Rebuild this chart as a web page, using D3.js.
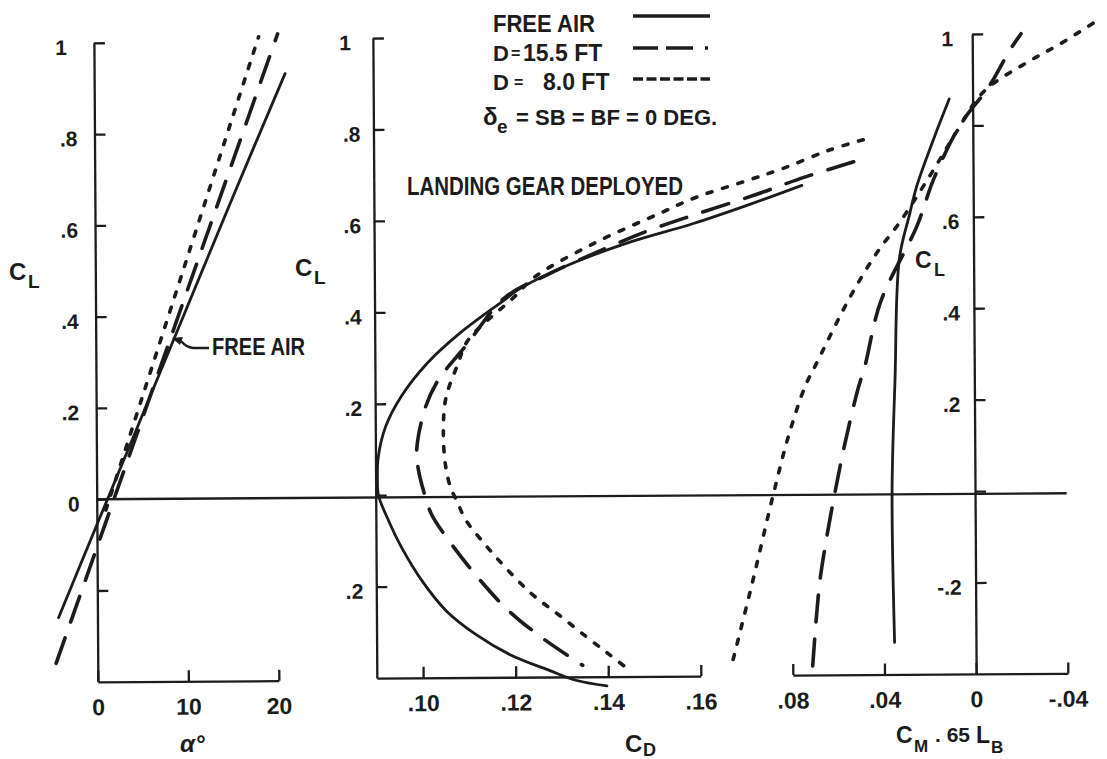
<!DOCTYPE html>
<html>
<head>
<meta charset="utf-8">
<script src="https://cdn.jsdelivr.net/npm/d3@7"></script>
<style>
  body { margin: 0; background: #fff; }
  svg { display: block; }
  text { font-family: 'Liberation Sans', Arial, 'DejaVu Sans', sans-serif; font-weight: bold; fill: #1c1c1c; }
</style>
</head>
<body>
<svg id="chart" width="1107" height="759"></svg>
<script>
// ---------------- DATA ----------------
// Left panel: CL vs angle of attack (deg)
const alphaFree = [-4.3, 0, 5, 10, 15, 21.1];
const clAlphaFree = [-0.259, -0.056, 0.179, 0.414, 0.649, 0.93];
const alpha155 = [-4.6, 0, 5, 10, 15, 20.3];
const clAlpha155 = [-0.359, -0.105, 0.171, 0.448, 0.724, 1.017];
const alpha80 = [1.0, 5, 10, 15, 18.2];
const clAlpha80 = [-0.024, 0.217, 0.518, 0.819, 1.011];

// Middle panel: drag polar CL vs CD
const cdFree = [0.1825, 0.1706, 0.159, 0.1446, 0.1317, 0.1209, 0.1187, 0.1086, 0.1014, 0.0956, 0.0922, 0.0906, 0.0904, 0.0906, 0.0928, 0.0956, 0.0999, 0.1051, 0.1116, 0.1187, 0.1274, 0.1332, 0.1397];
const clCdFree = [0.672, 0.629, 0.59, 0.548, 0.50, 0.447, 0.43, 0.355, 0.289, 0.215, 0.149, 0.083, 0.037, 0, -0.057, -0.116, -0.188, -0.254, -0.307, -0.35, -0.386, -0.408, -0.42];
const cd155 = [0.1937, 0.1831, 0.1721, 0.1598, 0.149, 0.1375, 0.127, 0.1181, 0.1097, 0.1036, 0.1008, 0.0989, 0.0993, 0.1008, 0.1021, 0.1053, 0.1116, 0.1183, 0.1256, 0.1345];
const clCd155 = [0.723, 0.69, 0.651, 0.611, 0.574, 0.526, 0.478, 0.43, 0.326, 0.25, 0.19, 0.096, 0.053, -0.007, -0.044, -0.094, -0.177, -0.252, -0.313, -0.375];
const cd80 = [0.1958, 0.1885, 0.1786, 0.1706, 0.1598, 0.1518, 0.1375, 0.1246, 0.1202, 0.1101, 0.1079, 0.1053, 0.1047, 0.1051, 0.1062, 0.1075, 0.1094, 0.1138, 0.1183, 0.1237, 0.1295, 0.1354, 0.1403, 0.1442];
const clCd80 = [0.771, 0.749, 0.71, 0.683, 0.648, 0.613, 0.548, 0.475, 0.432, 0.337, 0.285, 0.212, 0.14, 0.066, 0.015, -0.013, -0.055, -0.112, -0.164, -0.219, -0.265, -0.313, -0.352, -0.383];

// Right panel: CL vs pitching moment CM .65 LB
const cmFree = [0.0355, 0.0362, 0.0346, 0.0324, 0.028, 0.0246, 0.0171, 0.0102];
const clCmFree = [-0.33, 0, 0.247, 0.509, 0.603, 0.668, 0.771, 0.858];
const cm155 = [0.0713, 0.0682, 0.0652, 0.0608, 0.0565, 0.0508, 0.0477, 0.0407, 0.0246, 0.0172, 0.0058, -0.0073, -0.016, -0.0213];
const clCm155 = [-0.38, -0.205, -0.109, 0.007, 0.109, 0.225, 0.275, 0.415, 0.581, 0.683, 0.799, 0.886, 0.961, 1.0];
const cm80 = [0.106, 0.0974, 0.0878, 0.0813, 0.0739, 0.0695, 0.0538, 0.042, 0.032, 0.0189, 0.0071, -0.0047, -0.0249, -0.038, -0.0553];
const clCm80 = [-0.365, -0.197, 0, 0.122, 0.231, 0.275, 0.428, 0.524, 0.59, 0.69, 0.786, 0.873, 0.94, 0.976, 1.03];

// Ticks
const clTicks = [1, 0.8, 0.6, 0.4, 0.2, 0, -0.2];
const clLabelsLeft = ["1", ".8", ".6", ".4", ".2", "0", ""];
const clLabelsMid = ["1", ".8", ".6", ".4", ".2", "", ".2"];
const clLabelsRight = ["1", "", ".6", ".4", ".2", "", "-.2"];
const alphaTicks = [0, 10, 20];
const alphaLabels = ["0", "10", "20"];
const cdTicks = [0.10, 0.12, 0.14, 0.16];
const cdLabels = [".10", ".12", ".14", ".16"];
const cmTicks = [0.08, 0.04, 0, -0.04];
const cmLabels = [".08", ".04", "0", "-.04"];

// Legend
const seriesNames = ["FREE AIR", "D = 15.5 FT", "D =  8.0 FT"];

// ---------------- DRAWING ----------------
const ink = '#1c1c1c';
const svg = d3.select('#chart');
svg.append('rect').attr('width', 1107).attr('height', 759).attr('fill', '#fff');
// the scanned original is rotated very slightly
const g = svg.append('g').attr('transform', 'rotate(-0.355 550 380)');

const xAlpha = d3.scaleLinear().domain([0, 20]).range([96, 277]);
const yLeft = d3.scaleLinear().domain([-0.4, 1]).range([679, 40]);
const xCD = d3.scaleLinear().domain([0.09, 0.16]).range([375, 699]);
const yMid = d3.scaleLinear().domain([-0.4, 1]).range([677, 37]);
const xCM = d3.scaleLinear().domain([0.08, -0.04]).range([791, 1066]);
const yRight = d3.scaleLinear().domain([-0.4, 1]).range([676.6, 36.6]);

function styleAxis(sel) {
  sel.attr('font-family', null).attr('font-size', null);
  sel.selectAll('path.domain').attr('stroke', ink).attr('stroke-width', 2.3);
  sel.selectAll('.tick line').attr('stroke', ink).attr('stroke-width', 2.3);
  sel.selectAll('.tick text').attr('fill', ink);
}

function yAxis(scale, x, labels, pad, oneDx) {
  const ax = g.append('g').attr('transform', `translate(${x},0)`)
    .call(d3.axisLeft(scale).tickValues(clTicks).tickFormat((d, i) => labels[i])
      .tickSize(-11).tickSizeOuter(0).tickPadding(pad));
  styleAxis(ax);
  ax.selectAll('.tick text').attr('font-size', 21).attr('dy', '0.55em')
    .attr('dx', d => d === 1 ? oneDx : 0);
  return ax;
}
function xAxis(scale, y, ticks, labels) {
  const ax = g.append('g').attr('transform', `translate(0,${y})`)
    .call(d3.axisBottom(scale).tickValues(ticks).tickFormat((d, i) => labels[i])
      .tickSize(-11).tickSizeOuter(0).tickPadding(17));
  styleAxis(ax);
  ax.selectAll('.tick text').attr('font-size', 23);
  return ax;
}

// Left panel axes
yAxis(yLeft, xAlpha(0), clLabelsLeft, 17, -10);
xAxis(xAlpha, yLeft(-0.4), alphaTicks, alphaLabels);
// Middle panel axes
yAxis(yMid, xCD(0.09), clLabelsMid, 13, -9);
xAxis(xCD, yMid(-0.4), cdTicks, cdLabels);
// Right panel axes
yAxis(yRight, xCM(0), clLabelsRight, 14, -5);
xAxis(xCM, yRight(-0.4), cmTicks, cmLabels);

// Zero line across the whole figure
g.append('line')
  .attr('x1', xAlpha(0)).attr('x2', xCM(-0.04))
  .attr('y1', yLeft(0)).attr('y2', yLeft(0))
  .attr('stroke', ink).attr('stroke-width', 2.3);

const styles = {
  free: { w: 2.8, dash: null, cap: 'round' },
  d155: { w: 3.6, dash: '27,17', cap: 'round' },
  d80: { w: 3.6, dash: '5,11', cap: 'round' }
};
function curve(xs, ys, xs_, ys_, st) {
  const line = d3.line().x(d => xs_(d[0])).y(d => ys_(d[1]))
    .curve(d3.curveCatmullRom.alpha(0.5));
  const p = g.append('path').datum(d3.zip(xs, ys)).attr('d', line)
    .attr('fill', 'none').attr('stroke', ink).attr('stroke-width', st.w)
    .attr('stroke-linecap', st.cap).attr('stroke-linejoin', 'round');
  if (st.dash) p.attr('stroke-dasharray', st.dash);
}
// left
curve(alphaFree, clAlphaFree, xAlpha, yLeft, styles.free);
curve(alpha155, clAlpha155, xAlpha, yLeft, styles.d155);
curve(alpha80, clAlpha80, xAlpha, yLeft, styles.d80);
// middle
curve(cdFree, clCdFree, xCD, yMid, styles.free);
curve(cd155, clCd155, xCD, yMid, styles.d155);
curve(cd80, clCd80, xCD, yMid, styles.d80);
// right
curve(cmFree, clCmFree, xCM, yRight, styles.free);
curve(cm155, clCm155, xCM, yRight, styles.d155);
curve(cm80, clCm80, xCM, yRight, styles.d80);

// ---------------- TEXT / LEGEND ----------------
const t = svg.append('g');
function txt(x, y, s, size, opts = {}) {
  const e = t.append('text').attr('x', x).attr('y', y).attr('font-size', size).text(s);
  if (opts.anchor) e.attr('text-anchor', opts.anchor);
  if (opts.italic) e.attr('font-style', 'italic');
  if (opts.weight) e.attr('font-weight', opts.weight);
  if (opts.len) e.attr('textLength', opts.len).attr('lengthAdjust', 'spacingAndGlyphs');
  return e;
}
// text made of pieces: [string, x, y, size]
function pieces(parts) {
  const e = t.append('text');
  parts.forEach(p => {
    e.append('tspan').attr('x', p[1]).attr('y', p[2]).attr('font-size', p[3]).text(p[0]);
  });
  return e;
}
// legend text
txt(493, 32, seriesNames[0], 24, { len: 102 });
pieces([['D', 493, 61, 22], ['=', 511, 59, 16], ['15.5 FT', 523, 61, 23]]);
pieces([['D', 493, 90, 22], ['=', 514, 88, 16], ['8.0 FT', 543, 90, 23]]);
pieces([['δ', 483, 125, 24], ['e', 497, 133, 19], ['= SB = BF = 0 DEG.', 516, 125, 22]]);
// legend samples
const legY = [16, 48, 79];
const legDash = [null, '25,8,27,12,3,60', '10,3.5'];
legY.forEach((y, i) => {
  const l = t.append('line').attr('x1', 633).attr('x2', 710).attr('y1', y).attr('y2', y)
    .attr('stroke', ink).attr('stroke-width', 3.6);
  if (legDash[i]) l.attr('stroke-dasharray', legDash[i]);
});

txt(407, 195, 'LANDING GEAR DEPLOYED', 26, { len: 276 });

// Free air annotation with arrow
txt(212, 355, 'FREE AIR', 23, { len: 93 });
t.append('path').attr('d', 'M209,348 L193,348 Q186,347 182,342 L178,340')
  .attr('fill', 'none').attr('stroke', ink).attr('stroke-width', 2.4);
t.append('path').attr('d', 'M172,338 L183,337 L180,345 Z').attr('fill', ink);

// axis titles
pieces([['C', 9, 280, 24], ['L', 28, 288, 19]]);
pieces([['C', 295, 276, 24], ['L', 314, 284, 19]]);
pieces([['C', 915, 268, 23], ['L', 934, 276, 18]]);
txt(180, 752, 'α°', 24, { italic: true, weight: 'normal' });
pieces([['C', 625, 752, 24], ['D', 643, 756, 18]]);
pieces([['C', 896, 743, 23], ['M', 914, 752, 17], ['. 65', 935, 742, 21], ['L', 976, 743, 23], ['B', 991, 753, 17]]);
</script>
</body>
</html>
